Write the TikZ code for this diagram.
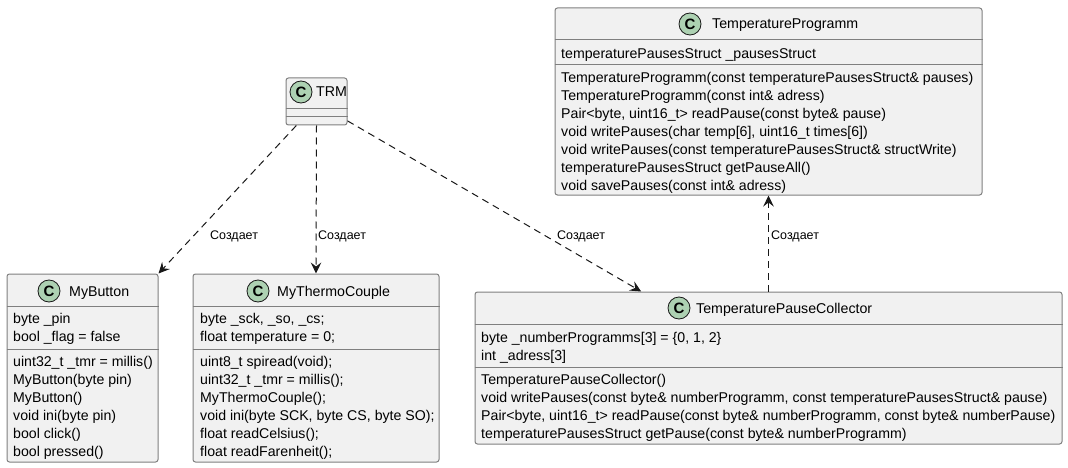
\documentclass[tikz,border=0pt]{standalone}
\usepackage{fontspec}
\setmainfont{Liberation Sans}
\usepackage{xcolor}
\usepackage{tikz}
\usetikzlibrary{arrows.meta}
\definecolor{boxfill}{HTML}{F1F1F1}
\definecolor{boxline}{HTML}{7F7F7F}
\definecolor{spotfill}{HTML}{ADD1B2}
\definecolor{inkline}{HTML}{181818}
\tikzset{
	classbox/.style={draw=boxline, fill=boxfill, rectangle, rounded corners=2.5pt, line width=1pt, inner sep=0pt},
	spot/.style={circle, draw=inkline, fill=spotfill, line width=0.8pt, minimum size=22pt, inner sep=0pt, font=\fontsize{15}{15}\selectfont\bfseries},
	title/.style={anchor=base west, inner sep=0pt, font=\fontsize{14.2}{18}\selectfont},
	members/.style={anchor=north west, inner sep=0pt, align=left, font=\fontsize{14.15}{17.95}\selectfont, execute at begin node=\strut},
	sepline/.style={draw=boxline, line width=1pt},
	creates/.style={draw=inkline, line width=1pt, dash pattern=on 7pt off 5pt, -{Stealth[length=11pt, width=10.5pt, inset=4pt]}},
	tag/.style={anchor=base west, inner sep=0pt, font=\fontsize{12.5}{15}\selectfont},
}
\begin{document}
\begin{tikzpicture}[x=1pt, y=-1pt]
	\useasboundingbox (0,0) rectangle (1068,468);
	% TRM
	\node[classbox, minimum width=61pt, minimum height=47pt] at (316.5,101.5) (trm){};
	\draw[sepline] (trm.west |- 0,109) -- (trm.east |- 0,109);
	\draw[sepline] (trm.west |- 0,117) -- (trm.east |- 0,117);
	\node[spot] at (301,92) (trmspot){C};
	\node[title] at (316,97) (trmtitle){TRM};
	% MyButton
	\node[classbox, minimum width=151pt, minimum height=188pt] at (82.5,368) (button){};
	\draw[sepline] (button.west |- 0,306) -- (button.east |- 0,306);
	\draw[sepline] (button.west |- 0,349) -- (button.east |- 0,349);
	\node[spot] at (49,291) (buttonspot){C};
	\node[title] at (69,296) (buttontitle){MyButton};
	\node[members] at (13,313) (buttonfields){byte \_pin\\bool \_flag = false};
	\node[members] at (13,356) (buttonmethods){uint32\_t \_tmr = millis()\\MyButton(byte pin)\\MyButton()\\void ini(byte pin)\\bool click()\\bool pressed()};
	% MyThermoCouple
	\node[classbox, minimum width=246pt, minimum height=188pt] at (316,368) (thermo){};
	\draw[sepline] (thermo.west |- 0,306) -- (thermo.east |- 0,306);
	\draw[sepline] (thermo.west |- 0,349) -- (thermo.east |- 0,349);
	\node[spot] at (258,291) (thermospot){C};
	\node[title] at (277,296) (thermotitle){MyThermoCouple};
	\node[members] at (200,313) (thermofields){byte \_sck, \_so, \_cs;\\float temperature = 0;};
	\node[members] at (200,356) (thermomethods){uint8\_t spiread(void);\\uint32\_t \_tmr = millis();\\MyThermoCouple();\\void ini(byte SCK, byte CS, byte SO);\\float readCelsius();\\float readFarenheit();};
	% TemperatureProgramm
	\node[classbox, minimum width=427pt, minimum height=187pt] at (768.5,101.5) (programm){};
	\draw[sepline] (programm.west |- 0,40) -- (programm.east |- 0,40);
	\draw[sepline] (programm.west |- 0,65) -- (programm.east |- 0,65);
	\node[spot] at (690,24) (programmspot){C};
	\node[title] at (712,29) (programmtitle){TemperatureProgramm};
	\node[members] at (561,46) (programmfields){temperaturePausesStruct \_pausesStruct};
	\node[members] at (561,72) (programmmethods){TemperatureProgramm(const temperaturePausesStruct\& pauses)\\TemperatureProgramm(const int\& adress)\\Pair<byte, uint16\_t> readPause(const byte\& pause)\\void writePauses(char temp[6], uint16\_t times[6])\\void writePauses(const temperaturePausesStruct\& structWrite)\\temperaturePausesStruct getPauseAll()\\void savePauses(const int\& adress)};
	% TemperaturePauseCollector
	\node[classbox, minimum width=587pt, minimum height=152pt] at (768.5,368) (collector){};
	\draw[sepline] (collector.west |- 0,324) -- (collector.east |- 0,324);
	\draw[sepline] (collector.west |- 0,367) -- (collector.east |- 0,367);
	\node[spot] at (679,308) (collectorspot){C};
	\node[title] at (696,313) (collectortitle){TemperaturePauseCollector};
	\node[members] at (481,332) (collectorfields){byte \_numberProgramms[3] = \{0, 1, 2\}\\int \_adress[3]};
	\node[members] at (481,374) (collectormethods){TemperaturePauseCollector()\\void writePauses(const byte\& numberProgramm, const temperaturePausesStruct\& pause)\\Pair<byte, uint16\_t> readPause(const byte\& numberProgramm, const byte\& numberPause)\\temperaturePausesStruct getPause(const byte\& numberProgramm)};
	% connectors
	\draw[creates] (trm.-130) -- (button.north east);
	\draw[creates] (trm.south) -- (thermo.north);
	\draw[creates] (trm.-32.6) -- (collector.149.8);
	\draw[creates] (collector.north) -- (programm.south);
	\node[tag] at (210,239) (tagbutton){Создает};
	\node[tag] at (318,239) (tagthermo){Создает};
	\node[tag] at (557,239) (tagcollector){Создает};
	\node[tag] at (771,239) (tagprogramm){Создает};
\end{tikzpicture}
\end{document}
